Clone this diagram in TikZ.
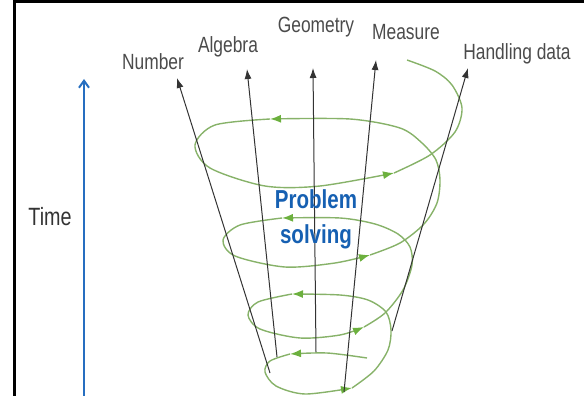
\documentclass[tikz,border=0pt]{standalone}
\usepackage{fontspec}
\newfontfamily\lblfont{Liberation Sans}[FakeStretch=0.79]
\usetikzlibrary{arrows.meta}
\definecolor{lblgray}{RGB}{75,75,75}
\definecolor{timeblue}{RGB}{38,110,192}
\definecolor{probblue}{RGB}{22,96,178}
\definecolor{spiralgreen}{RGB}{135,178,105}
\definecolor{tipgreen}{RGB}{108,176,62}

\begin{document}
\begin{tikzpicture}[
    x=1pt, y=-1pt,
    lbl/.style={anchor=base, inner sep=0pt, text=lblgray, font=\lblfont\fontsize{22}{25}\selectfont},
    ps/.style={anchor=base, inner sep=0pt, text=probblue, font=\lblfont\bfseries\fontsize{26}{30}\selectfont},
    axis/.style={draw=black!80, line width=1pt, -{Latex[length=10pt,width=7pt]}},
    spiral/.style={draw=spiralgreen, line width=1.4pt},
    garrow/.style={-{Latex[length=11pt,width=8pt,color=tipgreen]}}
]
    \useasboundingbox (0,0) rectangle (584,396);
    \draw[line width=3pt] (584,1.5) -- (14.5,1.5) -- (14.5,396);

    % time axis
    \coordinate (tbot) at (84,396);
    \coordinate (ttop) at (84,79);
    \draw[timeblue, line width=2pt, -{Straight Barb[length=7pt,width=10pt]}] (tbot) -- (ttop);
    \node[lbl, font=\lblfont\fontsize{25}{28}\selectfont, text=black!80] (time) at (50,225) {Time};

    % spiral, from the bottom up
    \draw[spiral, garrow] plot[smooth] coordinates {(367,358) (327,353) (290,354)};
    \draw[spiral, garrow] plot[smooth] coordinates {(290,354) (270,361) (265,372) (276,386) (305,394) (352,388)};
    \draw[spiral, garrow] plot[smooth] coordinates {(352,388) (374,371) (388,350) (391,330) (386,312) (368,300) (340,295) (292,294)};
    \draw[spiral, garrow] plot[smooth] coordinates {(292,294) (258,302) (248,315) (260,329) (300,338) (340,335) (364,327)};
    \draw[spiral, garrow] plot[smooth] coordinates {(364,327) (385,313) (403,290) (412,265) (410,247) (398,234) (375,224) (340,218) (282,218)};
    \draw[spiral, garrow] plot[smooth] coordinates {(282,218) (240,225) (223,240) (235,256) (285,267) (335,263) (370,255)};
    \draw[spiral, garrow] plot[smooth] coordinates {(370,255) (400,243) (424,224) (437,203) (440,180) (436,160) (422,143) (400,128) (350,119) (270,119)};
    \draw[spiral, garrow] plot[smooth] coordinates {(270,119) (215,125) (195,145) (210,168) (265,186) (320,186) (394,173)};
    \draw[spiral] plot[smooth] coordinates {(394,173) (430,155) (455,132) (462,108) (452,85) (435,71) (407,60)};

    % strands
    \coordinate (numfoot) at (270,373);
    \coordinate (numtip) at (177,78);
    \coordinate (algfoot) at (277,357);
    \coordinate (algtip) at (247,69);
    \coordinate (geofoot) at (316,352);
    \coordinate (geotip) at (313,68);
    \coordinate (measfoot) at (344,392);
    \coordinate (meastip) at (376,60);
    \coordinate (handfoot) at (392,331);
    \coordinate (handtip) at (468,68);
    \draw[axis] (numfoot) -- (numtip);
    \draw[axis] (algfoot) -- (algtip);
    \draw[axis] (geofoot) -- (geotip);
    \draw[axis] (measfoot) -- (meastip);
    \draw[axis] (handfoot) -- (handtip);

    \node[lbl] (num) at (153,70) {Number};
    \node[lbl] (alg) at (228,53) {Algebra};
    \node[lbl] (geo) at (316,33) {Geometry};
    \node[lbl] (meas) at (406,40) {Measure};
    \node[lbl] (hand) at (517,60) {Handling data};

    \node[ps] (prob) at (316,208) {Problem};
    \node[ps] (solv) at (316,243) {solving};
\end{tikzpicture}
\end{document}
